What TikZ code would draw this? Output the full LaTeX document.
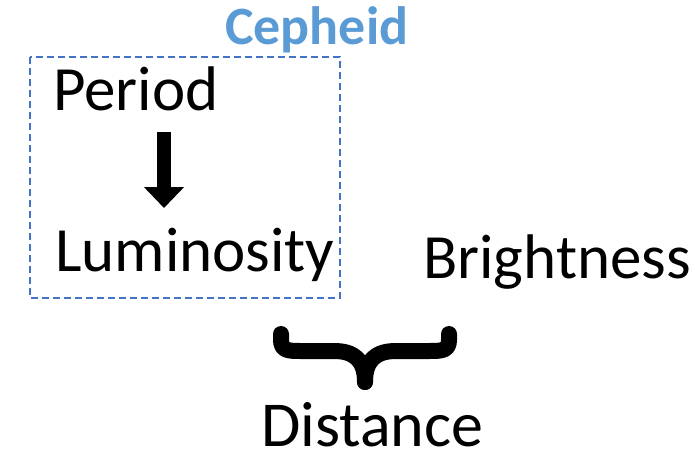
\documentclass[tikz,border=0pt]{standalone}
\usepackage{fontspec}
\setmainfont{Carlito}
\usetikzlibrary{arrows.meta}
\definecolor{boxblue}{HTML}{4472C4}
\definecolor{titleblue}{HTML}{5B9BD5}
\begin{document}
\begin{tikzpicture}[x=1pt,y=-1pt,
  word/.style={anchor=base west,inner sep=0pt,font=\fontsize{63}{70}\selectfont},
  title/.style={anchor=base west,inner sep=0pt,text=titleblue,font=\fontsize{54}{60}\selectfont\bfseries},
  groupbox/.style={draw=boxblue,line width=1.8pt,dash pattern=on 7pt off 4pt},
  bigarrow/.style={line width=14pt,-{Triangle[width=39pt,length=21pt]}},
  brace/.style={line width=16pt,line cap=round,line join=round}]
\useasboundingbox (0,0) rectangle (695,452);
% cepheid group
\draw[groupbox] (30,57) rectangle (340,298);
\node[title] (cep) at (225,45) {Cepheid};
\node[word] (per) at (53,110) {Period};
\node[word] (lum) at (55,271) {Luminosity};
\node[word] (bri) at (423,278) {Brightness};
\node[word,font=\fontsize{64}{70}\selectfont] (dis) at (261,446) {Distance};
% period implies luminosity
\coordinate (a0) at (164,132);
\coordinate (a1) at (164,208);
\draw[bigarrow] (a0) -- (a1);
% brace joining luminosity and brightness
\coordinate (bl) at (281,334);
\coordinate (br) at (449,334);
\coordinate (bt) at (365,382);
\draw[brace] (bl) -- (281,340) .. controls (281,351) and (289,351) .. (301,351)
  -- (334,351) .. controls (354,351) and (365,360) .. (bt);
\draw[brace] (br) -- (449,340) .. controls (449,351) and (441,351) .. (429,351)
  -- (396,351) .. controls (376,351) and (365,360) .. (bt);
\end{tikzpicture}
\end{document}
